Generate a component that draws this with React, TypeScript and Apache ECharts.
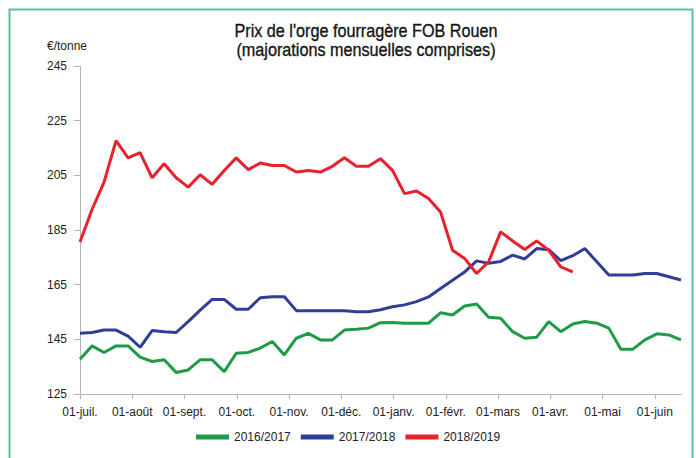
import React, { useEffect, useRef } from "react";
import * as echarts from "echarts";

// Month start labels (x axis)
const monthLabels = [
  "01-juil.", "01-août", "01-sept.", "01-oct.", "01-nov.", "01-déc.",
  "01-janv.", "01-févr.", "01-mars", "01-avr.", "01-mai", "01-juin",
];

const seasons = ["2016/2017", "2017/2018", "2018/2019"];

const titleLines = ["Prix de l'orge fourragère FOB Rouen", "(majorations mensuelles comprises)"];

// Weekly prices (€/tonne), first value = week of 1 July
const prices2016 = [
  137.7, 142.6, 140.2, 142.6, 142.6, 138.5, 136.9, 137.5, 132.9, 133.8,
  137.5, 137.5, 133.2, 139.9, 140.2, 141.8, 144.2, 139.3, 145.4, 147.2,
  144.8, 144.8, 148.4, 148.7, 149.1, 151.1, 151.2, 150.9, 150.9, 150.9,
  154.7, 153.9, 157.2, 157.9, 153.1, 152.7, 147.8, 145.4, 145.8, 151.5,
  147.8, 150.6, 151.5, 150.9, 149.1, 141.4, 141.4, 144.8, 147.0, 146.6,
  144.8,
];
const prices2017 = [
  147.2, 147.5, 148.4, 148.4, 146.2, 142.1, 148.2, 147.8, 147.5, 151.5,
  155.7, 159.6, 159.6, 156.0, 156.0, 160.2, 160.6, 160.6, 155.5, 155.5,
  155.5, 155.5, 155.5, 155.1, 155.1, 155.8, 156.9, 157.6, 158.8, 160.5,
  163.6, 166.6, 169.6, 173.7, 172.8, 173.5, 175.8, 174.4, 178.2, 177.8,
  173.8, 175.6, 178.2, 173.4, 168.5, 168.5, 168.5, 169.1, 169.1, 167.9,
  166.7,
];
const prices2018 = [
  180.6, 192.5, 202.5, 217.7, 211.4, 213.3, 204.1, 209.2, 204.1, 200.7,
  205.2, 201.7, 206.8, 211.4, 207.1, 209.5, 208.6, 208.6, 206.2, 206.8,
  206.2, 208.3, 211.4, 208.3, 208.3, 211.1, 206.8, 198.3, 199.3, 196.5,
  191.6, 177.6, 174.6, 169.1, 173.4, 184.3, 181.0, 177.9, 181.0, 177.6,
  171.5, 169.7,
];

const seriesColors = ["#1f9a48", "#2f3f95", "#e8212b"];
const MONTHS_PER_WEEK = 12 / 52.18;
const FONT_REG = "'Liberation Sans', Arial, sans-serif";

const toPoints = (vals: number[]) => vals.map((v, k) => [k * MONTHS_PER_WEEK, v]);
const monthTicks = monthLabels.map((_, i) => i);

export default function App() {
  const ref = useRef<HTMLDivElement>(null);
  useEffect(() => {
    if (!ref.current) return;
    const chart = echarts.init(ref.current, undefined, { renderer: "svg" });
    const allData = [prices2016, prices2017, prices2018];
    chart.setOption({
      animation: false,
      backgroundColor: "#ffffff",
      textStyle: { fontFamily: FONT_REG },
      grid: { left: 80, right: 15, top: 66, bottom: 64 },
      xAxis: {
        type: "value",
        min: 0,
        max: 11.5,
        interval: 1,
        axisLine: { show: true, lineStyle: { color: "#b5b5b5", width: 1 } },
        axisTick: {
          show: true,
          length: 5,
          customValues: monthTicks,
          lineStyle: { color: "#b5b5b5" },
        },
        axisLabel: {
          customValues: monthTicks,
          formatter: (v: number) => monthLabels[Math.round(v)] ?? "",
          margin: 12,
          fontSize: 12,
          color: "#222",
          fontFamily: FONT_REG,
        },
        splitLine: { show: false },
      },
      yAxis: {
        type: "value",
        min: 125,
        max: 245,
        interval: 20,
        axisLine: { show: true, lineStyle: { color: "#b5b5b5", width: 1 } },
        axisTick: { show: true, length: 6, lineStyle: { color: "#b5b5b5" } },
        axisLabel: { margin: 13, fontSize: 12, color: "#222", fontFamily: FONT_REG },
        splitLine: { show: false },
      },
      legend: {
        left: 196,
        top: 431,
        padding: 0,
        icon: "rect",
        itemWidth: 33,
        itemHeight: 5,
        itemGap: 10,
        textStyle: { fontSize: 12, color: "#222", fontFamily: FONT_REG },
        data: seasons,
      },
      series: seasons.map((name, i) => ({
        name,
        type: "line",
        data: toPoints(allData[i]),
        showSymbol: false,
        symbol: "none",
        lineStyle: { width: 3, color: seriesColors[i] },
        itemStyle: { color: seriesColors[i] },
        z: 2 + i,
      })),
      graphic: [
        {
          type: "rect",
          shape: { x: 9.5, y: 9.5, width: 683, height: 470 },
          style: { fill: "none", stroke: "#57c592", lineWidth: 2 },
          silent: true,
        },
        ...titleLines.map((t, i) => ({
          type: "text",
          x: 366,
          y: 31 + i * 19,
          scaleX: 0.9,
          style: {
            text: t,
            font: "18px 'Liberation Sans', Arial, sans-serif",
            fill: "#151515",
            stroke: "#151515",
            lineWidth: 0.35,
            textAlign: "center",
            textVerticalAlign: "middle",
          },
        })),
        {
          type: "text",
          left: 47,
          top: 40,
          style: { text: "€/tonne", font: "12px 'Liberation Sans', Arial, sans-serif", fill: "#222" },
        },
      ],
    });
    return () => chart.dispose();
  }, []);
  return (
    <div
      ref={ref}
      style={{ position: "fixed", left: 0, top: 0, width: 696, height: 458 }}
    />
  );
}
